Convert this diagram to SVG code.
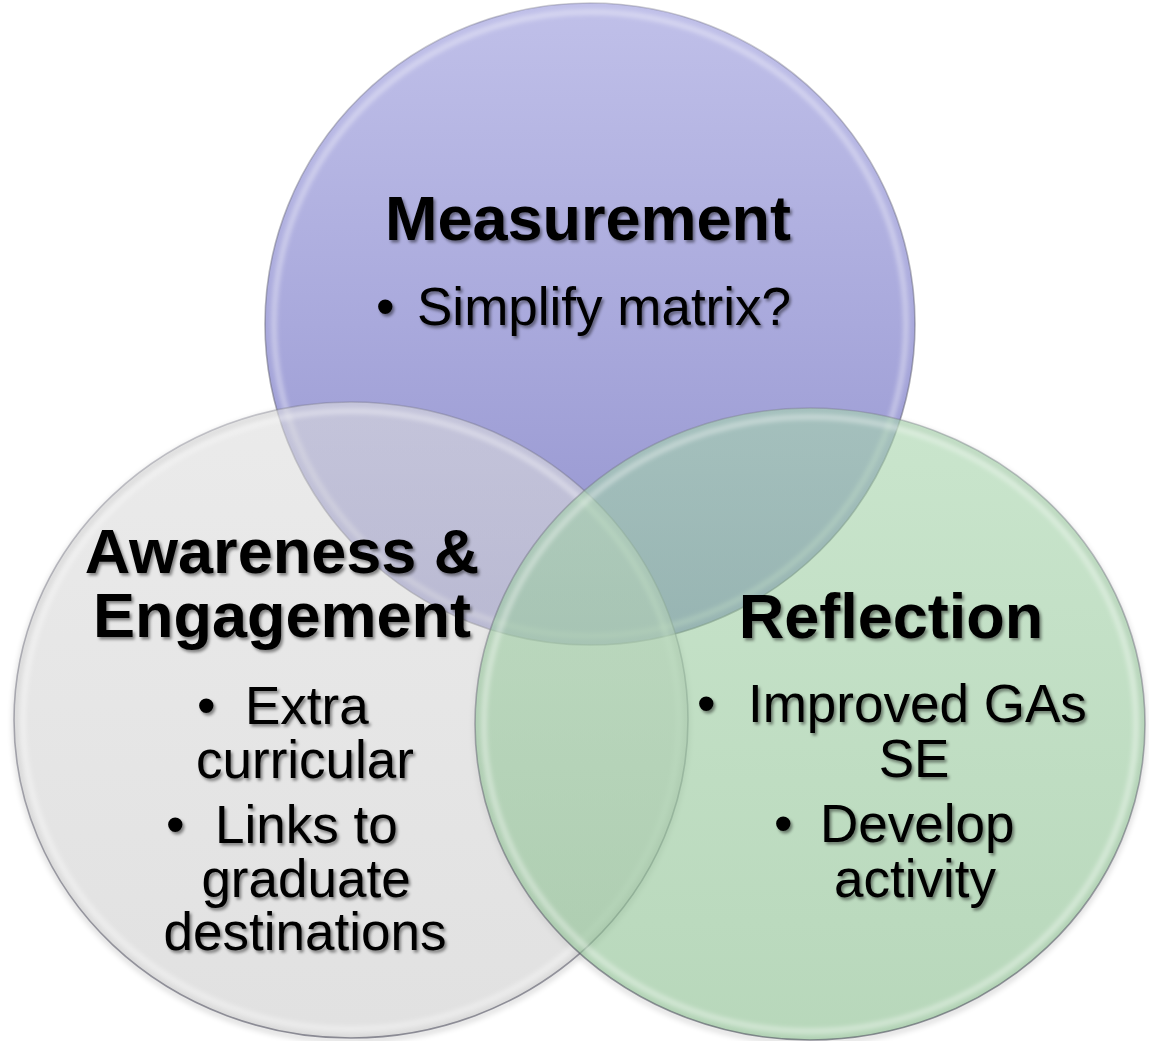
<svg xmlns="http://www.w3.org/2000/svg" width="1149" height="1041" viewBox="0 0 1149 1041">
  <style>
    .title { font-family: "Liberation Sans", Arial, sans-serif; font-weight: bold; font-size: 63px; fill: #000; text-anchor: middle; }
    .body { font-family: "Liberation Sans", Arial, sans-serif; font-size: 53px; fill: #000; }
    .mid { text-anchor: middle; }
    .rim { fill: none; stroke: url(#rimStroke); stroke-width: 1.6; }
    .glow { fill: none; stroke: #ffffff; stroke-opacity: 0.35; stroke-width: 6; filter: url(#soft); }
    .txt { filter: url(#textShadow); }
  </style>
  <defs>
    <linearGradient id="purpleFill" x1="0" y1="0" x2="0" y2="1">
      <stop offset="0" stop-color="#c0c0e9"/>
      <stop offset="0.5" stop-color="#a9a9dc"/>
      <stop offset="1" stop-color="#9191cd"/>
    </linearGradient>
    <linearGradient id="greyFill" x1="0" y1="0" x2="0" y2="1">
      <stop offset="0" stop-color="#dcdcdc"/>
      <stop offset="1" stop-color="#cbcbcb"/>
    </linearGradient>
    <linearGradient id="greenFill" x1="0" y1="0" x2="0" y2="1">
      <stop offset="0" stop-color="#a6d4ab"/>
      <stop offset="1" stop-color="#88bd8d"/>
    </linearGradient>
    <linearGradient id="rimStroke" x1="0" y1="0" x2="0" y2="1">
      <stop offset="0" stop-color="#707080" stop-opacity="0.35"/>
      <stop offset="1" stop-color="#505060" stop-opacity="0.6"/>
    </linearGradient>
    <filter id="soft" x="-10%" y="-10%" width="120%" height="120%">
      <feGaussianBlur stdDeviation="2"/>
    </filter>
    <filter id="shade" x="-10%" y="-10%" width="120%" height="130%">
      <feGaussianBlur stdDeviation="3"/>
    </filter>
    <filter id="textShadow" x="-10%" y="-20%" width="120%" height="150%">
      <feDropShadow dx="2" dy="2.5" stdDeviation="1.6" flood-color="#000" flood-opacity="0.45"/>
    </filter>
  </defs>

  <rect width="1149" height="1041" fill="#ffffff"/>

  <!-- soft shadows under the lower rims -->
  <g id="shadows" opacity="0.25">
    <ellipse cx="351" cy="723" rx="336" ry="317" fill="none" stroke="#000" stroke-width="3" filter="url(#shade)"/>
    <ellipse cx="810" cy="727" rx="334" ry="315" fill="none" stroke="#000" stroke-width="3" filter="url(#shade)"/>
  </g>

  <!-- Measurement -->
  <g id="measurement">
    <ellipse cx="590" cy="324" rx="325" ry="321" fill="url(#purpleFill)"/>
    <ellipse class="glow" cx="590" cy="324" rx="316" ry="312"/>
    <ellipse class="rim" cx="590" cy="324" rx="325" ry="321"/>
  </g>

  <!-- Awareness & Engagement -->
  <g id="awareness">
    <ellipse cx="351" cy="720" rx="337" ry="318" fill="url(#greyFill)" fill-opacity="0.58"/>
    <ellipse class="glow" cx="351" cy="720" rx="328" ry="309"/>
    <ellipse class="rim" cx="351" cy="720" rx="337" ry="318"/>
  </g>

  <!-- Reflection -->
  <g id="reflection">
    <ellipse cx="810" cy="724" rx="335" ry="316" fill="url(#greenFill)" fill-opacity="0.6"/>
    <ellipse class="glow" cx="810" cy="724" rx="326" ry="307"/>
    <ellipse class="rim" cx="810" cy="724" rx="335" ry="316"/>
  </g>

  <!-- labels -->
  <g id="measurement-text" class="txt">
    <text class="title" x="588" y="240">Measurement</text>
    <text class="body" x="376" y="325">•</text>
    <text class="body" x="417" y="325">Simplify matrix?</text>
  </g>

  <g id="awareness-text" class="txt">
    <text class="title" x="282" y="573">Awareness &amp;</text>
    <text class="title" x="282" y="637">Engagement</text>
    <text class="body" x="197" y="724">•</text>
    <text class="body" x="245" y="724">Extra</text>
    <text class="body mid" x="305" y="778">curricular</text>
    <text class="body" x="166" y="843">•</text>
    <text class="body" x="215" y="843">Links to</text>
    <text class="body mid" x="306" y="897">graduate</text>
    <text class="body mid" x="305" y="950">destinations</text>
  </g>

  <g id="reflection-text" class="txt">
    <text class="title" x="891" y="638">Reflection</text>
    <text class="body" x="697" y="722">•</text>
    <text class="body" x="748" y="722">Improved GAs</text>
    <text class="body mid" x="914" y="777">SE</text>
    <text class="body" x="774" y="842">•</text>
    <text class="body" x="820" y="842">Develop</text>
    <text class="body mid" x="915" y="897">activity</text>
  </g>
</svg>
